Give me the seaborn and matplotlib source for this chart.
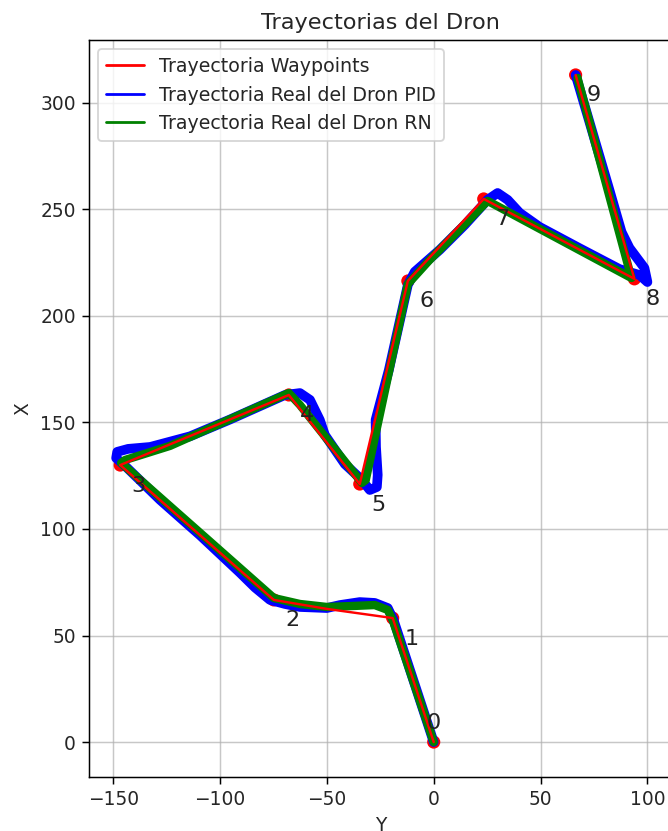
import matplotlib
matplotlib.use("Agg")
import matplotlib.pyplot as plt
import seaborn as sns
from matplotlib.lines import Line2D

# Waypoints (horizontal axis = "Y", vertical axis = "X")
wp_y = [0.0, -19.2, -74.8, -146.7, -67.8, -34.6, -12.1, 23.4, 93.9, 66.4]
wp_x = [0.0, 58.2, 66.7, 130.0, 162.9, 121.1, 216.4, 254.9, 217.4, 313.1]
wp_labels = ["0", "1", "2", "3", "4", "5", "6", "7", "8", "9"]

# Waypoint reference trajectory (red line)
ref_y = [0.0, -19.2, -50.0, -74.8, -146.7, -67.8, -34.6, -12.1, 23.4, 93.9, 66.4]
ref_x = [0.0, 58.2, 62.5, 66.7, 130.0, 162.9, 121.1, 216.4, 254.9, 217.4, 313.1]

# PID drone trajectory (blue)
pid_y = [0.0, -18.8, -21.5, -27.6, -34.6, -43.9, -50.0, -62.6, -69.6, -76.6,
         -83.6, -90.7, -109.3, -128.0, -144.4, -148.6, -148.1, -143.0, -132.7,
         -114.0, -95.3, -69.6, -62.6, -57.9, -53.3, -50.9, -41.6, -33.6, -29.9,
         -26.6, -26.2, -27.0, -27.2, -21.0, -12.1, -8.9, 2.8, 14.5, 25.2, 29.9,
         34.6, 40.2, 49.5, 68.2, 86.9, 96.3, 100.0, 98.6, 91.6, 87.9, 82.2, 66.4]
pid_x = [0.0, 57.3, 62.9, 65.3, 65.7, 64.3, 62.9, 63.4, 64.8, 66.7,
         72.5, 79.5, 97.0, 113.6, 129.6, 133.3, 136.2, 137.6, 138.5,
         143.5, 151.4, 162.9, 163.8, 160.6, 151.2, 144.1, 130.5, 123.0, 118.3,
         119.7, 125.4, 138.5, 151.2, 174.6, 214.6, 220.7, 231.0, 242.7, 254.5, 257.7,
         254.5, 248.4, 241.8, 231.8, 222.0, 219.2, 215.9, 222.5, 231.9, 239.4, 259.2, 313.1]

# Neural network drone trajectory (green)
rn_y = [0.0, -19.2, -21.5, -27.6, -39.3, -50.0, -62.6, -74.8, -90.7, -146.3,
        -144.4, -123.4, -67.8, -62.6, -33.6, -31.8, -12.1, -1.9, 25.2, 92.5, 67.3]
rn_x = [0.0, 57.3, 62.0, 64.3, 63.8, 63.4, 64.8, 67.6, 81.7, 131.0,
        132.4, 139.0, 163.8, 158.2, 121.6, 123.0, 215.0, 226.3, 254.0, 217.8, 311.7]

DPI = 134
sns.set_style("white")
plt.rcParams["font.family"] = ["DejaVu Sans"]
fig = plt.figure(figsize=(668 / DPI, 831 / DPI), dpi=DPI)
ax = fig.add_axes([89 / 668, 54 / 831, 583 / 668, 737 / 831])

# red waypoint markers (under the trajectories)
sns.scatterplot(x=wp_y, y=wp_x, color="red", s=50, edgecolor="none", ax=ax, zorder=2)

sns.lineplot(x=pid_y, y=pid_x, sort=False, estimator=None, color="blue", lw=5.2,
             ax=ax, zorder=3, solid_capstyle="round", solid_joinstyle="round")
sns.lineplot(x=rn_y, y=rn_x, sort=False, estimator=None, color="green", lw=4.5,
             ax=ax, zorder=4, solid_capstyle="round", solid_joinstyle="round")
sns.lineplot(x=ref_y, y=ref_x, sort=False, estimator=None, color="red", lw=1.3,
             ax=ax, zorder=5)

for i, (yy, xx, lab) in enumerate(zip(wp_y, wp_x, wp_labels)):
    off = (0, 10.5) if i == 0 else (10, -11)
    ax.annotate(lab, (yy, xx), xytext=off, textcoords="offset points",
                ha="center", va="center", fontsize=12, color="#222222", zorder=6)

ax.set_xlim(-161.3, 111.5)
ax.set_ylim(-16.4, 329.5)
ax.set_xticks([-150, -100, -50, 0, 50, 100])
ax.set_yticks([0, 50, 100, 150, 200, 250, 300])
ax.grid(True, color="#b0b0b0", lw=0.8, alpha=0.7)
ax.set_axisbelow(True)
ax.tick_params(axis="both", which="both", direction="out", length=3.5, width=0.8,
               labelsize=10, left=True, bottom=True, color="black")
for s in ax.spines.values():
    s.set_color("black")
    s.set_linewidth(0.8)

ax.set_title("Trayectorias del Dron", fontsize=12)
ax.set_xlabel("Y", fontsize=10)
ax.set_ylabel("X", fontsize=10)

handles = [Line2D([0], [0], color="red", lw=1.5),
           Line2D([0], [0], color="blue", lw=1.5),
           Line2D([0], [0], color="green", lw=1.5)]
ax.legend(handles, ["Trayectoria Waypoints", "Trayectoria Real del Dron PID",
                    "Trayectoria Real del Dron RN"], loc="upper left", fontsize=10.2,
          frameon=True, framealpha=0.8, edgecolor="#cccccc")

fig.savefig("out.png", dpi=DPI)
